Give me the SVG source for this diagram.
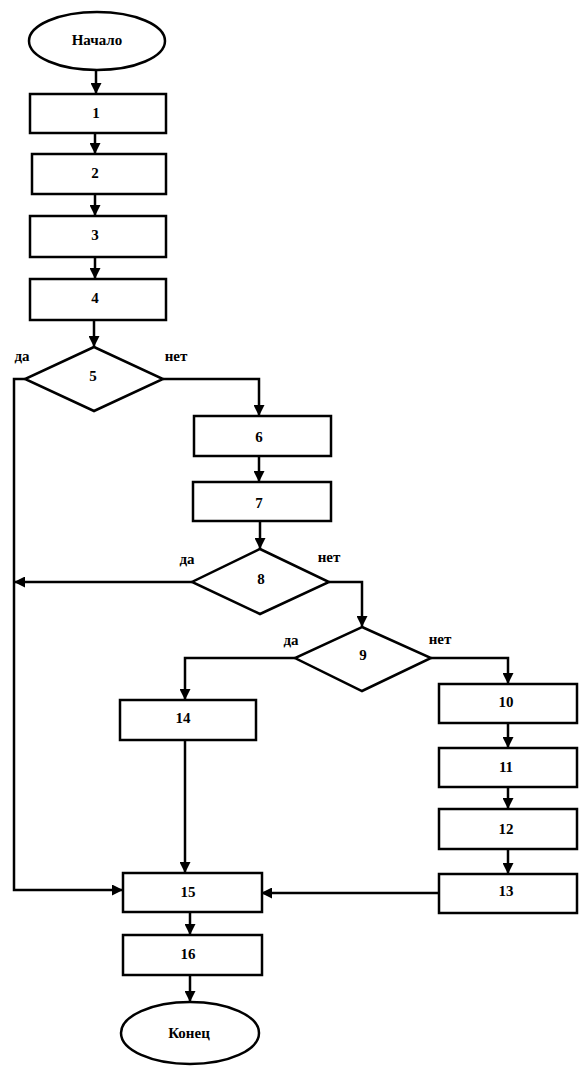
<svg xmlns="http://www.w3.org/2000/svg" width="582" height="1066" viewBox="0 0 582 1066">
<style>
.s{fill:#fff;stroke:#000;stroke-width:2.5}
.c{fill:none;stroke:#000;stroke-width:2.5}
text{font-family:"Liberation Serif","Times New Roman",serif;font-size:15px;font-weight:bold;fill:#000;text-anchor:middle;dominant-baseline:central}
</style>
<defs>
<marker id="a" markerUnits="userSpaceOnUse" markerWidth="11" markerHeight="11" refX="11" refY="5.5" orient="auto">
<path d="M0,0 L11,5.5 L0,11 Z" fill="#000"/>
</marker>
</defs>
<rect width="582" height="1066" fill="#fff"/>
<g id="connectors">
<path class="c" d="M96,70 V94" marker-end="url(#a)"/>
<path class="c" d="M95,133 V154" marker-end="url(#a)"/>
<path class="c" d="M95,194 V216" marker-end="url(#a)"/>
<path class="c" d="M95,257 V279" marker-end="url(#a)"/>
<path class="c" d="M94,320 V347" marker-end="url(#a)"/>
<path class="c" d="M25,379 H14 V890 H123" marker-end="url(#a)"/>
<path class="c" d="M163,379 H259 V416" marker-end="url(#a)"/>
<path class="c" d="M259,456 V482" marker-end="url(#a)"/>
<path class="c" d="M260,521 V549" marker-end="url(#a)"/>
<path class="c" d="M192,582 H14" marker-end="url(#a)"/>
<path class="c" d="M329,582 H362 V627" marker-end="url(#a)"/>
<path class="c" d="M295,658 H185 V700" marker-end="url(#a)"/>
<path class="c" d="M431,658 H508 V684" marker-end="url(#a)"/>
<path class="c" d="M508,723 V748" marker-end="url(#a)"/>
<path class="c" d="M508,787 V809" marker-end="url(#a)"/>
<path class="c" d="M508,849 V874" marker-end="url(#a)"/>
<path class="c" d="M439,893 H261" marker-end="url(#a)"/>
<path class="c" d="M185,740 V873" marker-end="url(#a)"/>
<path class="c" d="M190,912 V935" marker-end="url(#a)"/>
<path class="c" d="M190,975 V1002" marker-end="url(#a)"/>
</g>
<g id="start"><ellipse class="s" cx="97" cy="41" rx="68" ry="29"/><text x="97" y="40">Начало</text></g>
<g id="n1"><rect class="s" x="30" y="94" width="136" height="39"/><text x="96" y="113">1</text></g>
<g id="n2"><rect class="s" x="32" y="154" width="134" height="40"/><text x="95" y="173">2</text></g>
<g id="n3"><rect class="s" x="30" y="216" width="136" height="41"/><text x="95" y="235">3</text></g>
<g id="n4"><rect class="s" x="30" y="279" width="136" height="41"/><text x="95" y="298">4</text></g>
<g id="n5"><polygon class="s" points="94,347 163,379 94,411 25,379"/><text x="93" y="376">5</text></g>
<g id="n6"><rect class="s" x="194" y="416" width="137" height="40"/><text x="259" y="437">6</text></g>
<g id="n7"><rect class="s" x="193" y="482" width="138" height="39"/><text x="259" y="503">7</text></g>
<g id="n8"><polygon class="s" points="260,549 329,582 260,614 192,582"/><text x="261" y="579">8</text></g>
<g id="n9"><polygon class="s" points="362,627 431,658 362,691 295,658"/><text x="363" y="655">9</text></g>
<g id="n10"><rect class="s" x="439" y="684" width="138" height="39"/><text x="506" y="702">10</text></g>
<g id="n11"><rect class="s" x="439" y="748" width="138" height="39"/><text x="506" y="767">11</text></g>
<g id="n12"><rect class="s" x="439" y="809" width="138" height="40"/><text x="506" y="829">12</text></g>
<g id="n13"><rect class="s" x="439" y="874" width="138" height="39"/><text x="506" y="891">13</text></g>
<g id="n14"><rect class="s" x="120" y="700" width="136" height="40"/><text x="183" y="718">14</text></g>
<g id="n15"><rect class="s" x="123" y="873" width="139" height="39"/><text x="188" y="892">15</text></g>
<g id="n16"><rect class="s" x="123" y="935" width="139" height="40"/><text x="188" y="954">16</text></g>
<g id="end"><ellipse class="s" cx="190" cy="1033" rx="69" ry="31"/><text x="189" y="1033">Конец</text></g>
<g id="labels">
<text x="22" y="356">да</text>
<text x="176" y="356">нет</text>
<text x="187" y="559">да</text>
<text x="329" y="557">нет</text>
<text x="291" y="640">да</text>
<text x="440" y="639">нет</text>
</g>
</svg>
